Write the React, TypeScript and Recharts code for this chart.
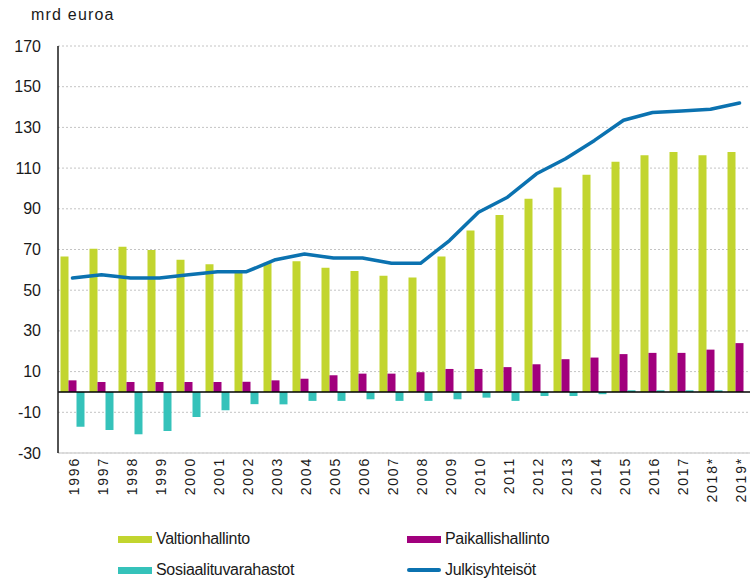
import React from 'react';
import { ComposedChart, Bar, Line, XAxis, YAxis, CartesianGrid, ReferenceLine, Legend } from 'recharts';

const years = ['1996','1997','1998','1999','2000','2001','2002','2003','2004','2005','2006','2007','2008','2009','2010','2011','2012','2013','2014','2015','2016','2017','2018*','2019*'];
const valtionhallinto = [66.5,70.4,71.3,69.8,65.0,62.7,58.8,63.5,64.2,61.0,59.4,57.1,56.3,66.5,79.3,87.0,94.9,100.5,106.7,113.1,116.3,117.9,116.3,117.9];
const paikallishallinto = [5.7,4.9,4.9,4.9,4.9,4.9,5.0,5.7,6.5,8.2,9.0,9.0,9.7,11.3,11.3,12.2,13.6,16.1,16.9,18.6,19.2,19.2,20.8,24.0];
const sosiaalituvarahastot = [-17.1,-18.7,-20.8,-19.2,-12.3,-9.0,-6.0,-6.1,-4.4,-4.4,-3.6,-4.4,-4.4,-3.6,-2.8,-4.4,-2.0,-2.0,-1.1,0.8,0.8,0.8,0.8,0];
const julkisyhteisot = [56.0,57.6,56.0,56.0,57.6,59.1,59.1,65.0,67.8,65.8,65.8,63.2,63.2,74.4,88.3,95.7,107.2,114.6,123.6,133.5,137.3,138.1,138.9,142.0];
const yTicks = [-30,-10,10,30,50,70,90,110,130,150,170];

const data = years.map((y, i) => ({
  year: y,
  valtion: valtionhallinto[i],
  paikallis: paikallishallinto[i],
  sosiaali: sosiaalituvarahastot[i],
  julkis: julkisyhteisot[i],
}));

const GREEN = '#c2d52f';
const PURPLE = '#a1007d';
const TEAL = '#35c2ba';
const BLUE = '#0b72b0';
const FONT = '"Liberation Sans", Arial, sans-serif';

const YTick = (props: any) => {
  const { x, y, payload } = props;
  return (
    <text x={x - 17} y={y} textAnchor="end" dominantBaseline="central" fontSize={16} fontFamily={FONT} fill="#1a1a1a">
      {payload.value}
    </text>
  );
};

const XTick = (props: any) => {
  const { x, y, payload } = props;
  return (
    <text
      x={0}
      y={0}
      transform={`translate(${x + 1},${y + 4}) rotate(-90)`}
      textAnchor="end"
      dominantBaseline="central"
      fontSize={14}
      letterSpacing={1.8}
      fontFamily={FONT}
      fill="#1a1a1a"
    >
      {payload.value}
    </text>
  );
};

const legendItems = [
  { label: 'Valtionhallinto', color: GREEN, type: 'rect', col: 0, row: 0 },
  { label: 'Paikallishallinto', color: PURPLE, type: 'rect', col: 1, row: 0 },
  { label: 'Sosiaalituvarahastot', color: TEAL, type: 'rect', col: 0, row: 1 },
  { label: 'Julkisyhteisöt', color: BLUE, type: 'line', col: 1, row: 1 },
];

const LegendContent = () => (
  <div style={{ position: 'relative', width: 750, height: 60, fontFamily: FONT }}>
    {legendItems.map((it) => (
      <div
        key={it.label}
        style={{
          position: 'absolute',
          left: it.col === 0 ? 118 : 407,
          top: it.row * 31,
          height: 18,
          display: 'flex',
          alignItems: 'center',
          whiteSpace: 'nowrap',
        }}
      >
        <div
          style={{
            width: 34,
            height: it.type === 'rect' ? 7 : 4,
            borderRadius: it.type === 'line' ? 2 : 0,
            background: it.color,
            marginRight: 4,
          }}
        />
        <span style={{ fontSize: 16, letterSpacing: -0.3, color: '#1a1a1a' }}>{it.label}</span>
      </div>
    ))}
  </div>
);

export default function App() {
  return (
    <div style={{ position: 'absolute', left: 0, top: 0, width: 750, height: 582, overflow: 'hidden', background: '#fff' }}>
      <div style={{ position: 'absolute', left: 31, top: 6, fontSize: 16, letterSpacing: 1.2, fontFamily: FONT, color: '#1a1a1a', zIndex: 2 }}>
        mrd euroa
      </div>
      <ComposedChart
        width={754}
        height={582}
        data={data}
        margin={{ top: 46, right: 0, bottom: 69, left: 0 }}
        barCategoryGap={2.5}
        barGap={0}
      >
        <CartesianGrid vertical={false} stroke="#c4c4c4" strokeDasharray="2 2" />
        <XAxis
          dataKey="year"
          height={60}
          interval={0}
          tickLine={false}
          tickSize={0}
          tickMargin={0}
          axisLine={{ stroke: '#d4d4d4', strokeWidth: 1.5 }}
          tick={<XTick />}
        />
        <YAxis
          width={58}
          domain={[-30, 170]}
          ticks={yTicks}
          interval={0}
          tickLine={false}
          tickSize={0}
          tickMargin={0}
          axisLine={{ stroke: '#1a1a1a', strokeWidth: 1.5 }}
          tick={<YTick />}
        />
        <Bar dataKey="valtion" name="Valtionhallinto" fill={GREEN} isAnimationActive={false} />
        <Bar dataKey="paikallis" name="Paikallishallinto" fill={PURPLE} isAnimationActive={false} />
        <Bar dataKey="sosiaali" name="Sosiaalituvarahastot" fill={TEAL} isAnimationActive={false} />
        <ReferenceLine y={0} stroke="#000" strokeWidth={1.5} />
        <Line
          dataKey="julkis"
          name="Julkisyhteisöt"
          type="linear"
          stroke={BLUE}
          strokeWidth={3.5}
          strokeLinejoin="round"
          strokeLinecap="round"
          dot={false}
          activeDot={false}
          isAnimationActive={false}
        />
        <Legend
          verticalAlign="middle"
          align="center"
          layout="horizontal"
          wrapperStyle={{ left: 0, top: 530, width: 750, height: 60 }}
          content={<LegendContent />}
        />
      </ComposedChart>
    </div>
  );
}
